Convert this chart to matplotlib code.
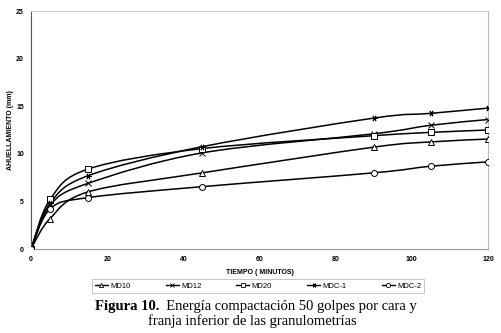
import numpy as np
import matplotlib.pyplot as plt
from matplotlib.path import Path
from matplotlib.patches import PathPatch
from matplotlib.lines import Line2D

# Data
tiempo = [0, 5, 15, 45, 90, 105, 120]
md10 = [0, 3.2, 6.0, 8.0, 10.7, 11.25, 11.55]
md12 = [0, 4.6, 6.9, 10.1, 12.1, 13.0, 13.6]
md20 = [0, 5.2, 8.4, 10.55, 11.9, 12.25, 12.5]
mdc1 = [0, 4.8, 7.7, 10.75, 13.75, 14.25, 14.8]
mdc2 = [0, 4.2, 5.4, 6.55, 8.0, 8.7, 9.15]

series = [
    ('MD10', md10, '^'),
    ('MD12', md12, 'x'),
    ('MD20', md20, 's'),
    ('MDC-1', mdc1, (6, 2, 90)),
    ('MDC-2', mdc2, 'o'),
]

plt.rcParams['font.family'] = ['Liberation Sans', 'DejaVu Sans']


def smooth_path(x, y, t=1 / 6):
    # excel-like smoothed line: cubic bezier through the points
    p = np.column_stack([x, y]).astype(float)
    verts = [p[0]]
    codes = [Path.MOVETO]
    n = len(p)
    for i in range(n - 1):
        p0 = p[i - 1] if i > 0 else p[i]
        p3 = p[i + 2] if i + 2 < n else p[i + 1]
        c1 = p[i] + (p[i + 1] - p0) * t
        c2 = p[i + 1] - (p3 - p[i]) * t
        verts += [c1, c2, p[i + 1]]
        codes += [Path.CURVE4] * 3
    return Path(verts, codes)


fig = plt.figure(figsize=(5.01, 3.33), dpi=100)
ax = fig.add_axes([31 / 501, 1 - 249 / 333, 457 / 501, 238 / 333])

for name, vals, mk in series:
    ax.add_patch(PathPatch(smooth_path(tiempo, vals), fill=False,
                           edgecolor='black', lw=1.1, zorder=2))
    ax.plot(tiempo, vals, ls='none', marker=mk, ms=4.3, mfc='white',
            mec='black', mew=0.7, zorder=3)

ax.set_xlim(0, 120)
ax.set_ylim(0, 25)
ax.set_xticks([0, 20, 40, 60, 80, 100, 120])
ax.set_yticks([0, 5, 10, 15, 20, 25])
ax.tick_params(length=0, labelsize=5, pad=5)
for lab in ax.get_xticklabels() + ax.get_yticklabels():
    lab.set_fontweight('bold')

ax.spines['left'].set_color('#555555')
ax.spines['bottom'].set_color('#999999')
ax.spines['top'].set_color('#cccccc')
ax.spines['right'].set_color('#bbbbbb')
for s in ax.spines.values():
    s.set_linewidth(0.8)

ax.set_xlabel('TIEMPO ( MINUTOS)', fontsize=5, fontweight='bold', labelpad=4)
ax.set_ylabel('AHUELLAMIENTO (mm)', fontsize=5, fontweight='bold', labelpad=1.5)

handles = [Line2D([], [], color='black', lw=1.0, marker=mk, ms=3, mfc='white',
                  mec='black', mew=0.6) for _, _, mk in series]
leg = fig.legend(handles, [s[0] for s in series], loc='center',
                 bbox_to_anchor=(258 / 501, 1 - 286 / 333), ncol=5,
                 fontsize=5.5, frameon=True, fancybox=False, edgecolor='#aaaaaa',
                 handlelength=1.7, handletextpad=0.3, columnspacing=4.6,
                 borderpad=0.4)
leg.get_frame().set_linewidth(0.6)

t1 = fig.text(95 / 501, 1 - 310 / 333, 'Figura 10.', fontsize=10.5,
              fontweight='bold', family='Liberation Serif', va='baseline')
ax.annotate('  Energía compactación 50 golpes por cara y', xy=(1, 0),
            xycoords=t1, va='bottom', fontsize=10.5, family='Liberation Serif',
            annotation_clip=False)
fig.text(252 / 501, 1 - 325 / 333, 'franja inferior de las granulometrías',
         fontsize=10.5, family='Liberation Serif', ha='center', va='baseline')

fig.savefig('out.png', dpi=100)
